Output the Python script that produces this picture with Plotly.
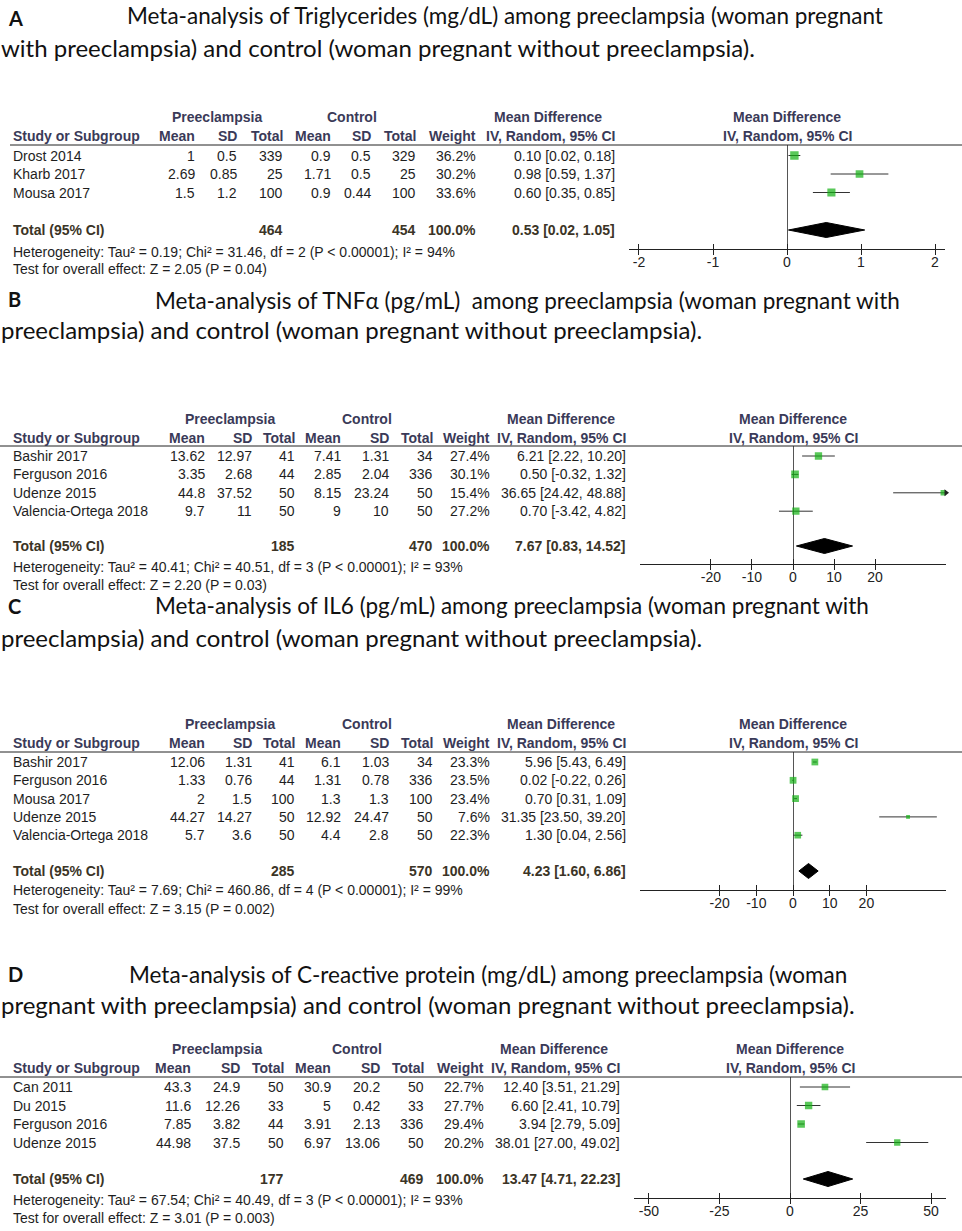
import plotly.graph_objects as go

W, H = 962, 1231

# ======================= DATA =======================
# ---- Panel A: Triglycerides ----
a_letter = "A"
a_title = ["Meta-analysis of Triglycerides (mg/dL) among preeclampsia (woman pregnant",
           "with preeclampsia) and control (woman pregnant without preeclampsia)."]
a_studies = ["Drost 2014", "Kharb 2017", "Mousa 2017"]
a_pe_mean = [1, 2.69, 1.5]
a_pe_sd = [0.5, 0.85, 1.2]
a_pe_n = [339, 25, 100]
a_ct_mean = [0.9, 1.71, 0.9]
a_ct_sd = [0.5, 0.5, 0.44]
a_ct_n = [329, 25, 100]
a_weight = [36.2, 30.2, 33.6]
a_md = [0.10, 0.98, 0.60]
a_lo = [0.02, 0.59, 0.35]
a_hi = [0.18, 1.37, 0.85]
a_total = dict(pe_n=464, ct_n=454, weight=100.0, md=0.53, lo=0.02, hi=1.05)
a_het = "Heterogeneity: Tau² = 0.19; Chi² = 31.46, df = 2 (P < 0.00001); I² = 94%"
a_test = "Test for overall effect: Z = 2.05 (P = 0.04)"
a_ticks = [-2, -1, 0, 1, 2]

# ---- Panel B: TNF-alpha ----
b_letter = "B"
b_title = ["Meta-analysis of TNFα (pg/mL)\u00a0 among preeclampsia (woman pregnant with",
           "preeclampsia) and control (woman pregnant without preeclampsia)."]
b_studies = ["Bashir 2017", "Ferguson 2016", "Udenze 2015", "Valencia-Ortega 2018"]
b_pe_mean = [13.62, 3.35, 44.8, 9.7]
b_pe_sd = [12.97, 2.68, 37.52, 11]
b_pe_n = [41, 44, 50, 50]
b_ct_mean = [7.41, 2.85, 8.15, 9]
b_ct_sd = [1.31, 2.04, 23.24, 10]
b_ct_n = [34, 336, 50, 50]
b_weight = [27.4, 30.1, 15.4, 27.2]
b_md = [6.21, 0.50, 36.65, 0.70]
b_lo = [2.22, -0.32, 24.42, -3.42]
b_hi = [10.20, 1.32, 48.88, 4.82]
b_total = dict(pe_n=185, ct_n=470, weight=100.0, md=7.67, lo=0.83, hi=14.52)
b_het = "Heterogeneity: Tau² = 40.41; Chi² = 40.51, df = 3 (P < 0.00001); I² = 93%"
b_test = "Test for overall effect: Z = 2.20 (P = 0.03)"
b_ticks = [-20, -10, 0, 10, 20]

# ---- Panel C: IL6 ----
c_letter = "C"
c_title = ["Meta-analysis of IL6 (pg/mL) among preeclampsia (woman pregnant with",
           "preeclampsia) and control (woman pregnant without preeclampsia)."]
c_studies = ["Bashir 2017", "Ferguson 2016", "Mousa 2017", "Udenze 2015", "Valencia-Ortega 2018"]
c_pe_mean = [12.06, 1.33, 2, 44.27, 5.7]
c_pe_sd = [1.31, 0.76, 1.5, 14.27, 3.6]
c_pe_n = [41, 44, 100, 50, 50]
c_ct_mean = [6.1, 1.31, 1.3, 12.92, 4.4]
c_ct_sd = [1.03, 0.78, 1.3, 24.47, 2.8]
c_ct_n = [34, 336, 100, 50, 50]
c_weight = [23.3, 23.5, 23.4, 7.6, 22.3]
c_md = [5.96, 0.02, 0.70, 31.35, 1.30]
c_lo = [5.43, -0.22, 0.31, 23.50, 0.04]
c_hi = [6.49, 0.26, 1.09, 39.20, 2.56]
c_total = dict(pe_n=285, ct_n=570, weight=100.0, md=4.23, lo=1.60, hi=6.86)
c_het = "Heterogeneity: Tau² = 7.69; Chi² = 460.86, df = 4 (P < 0.00001); I² = 99%"
c_test = "Test for overall effect: Z = 3.15 (P = 0.002)"
c_ticks = [-20, -10, 0, 10, 20]

# ---- Panel D: C-reactive protein ----
d_letter = "D"
d_title = ["Meta-analysis of C-reactive protein (mg/dL) among preeclampsia (woman",
           "pregnant with preeclampsia) and control (woman pregnant without preeclampsia)."]
d_studies = ["Can 2011", "Du 2015", "Ferguson 2016", "Udenze 2015"]
d_pe_mean = [43.3, 11.6, 7.85, 44.98]
d_pe_sd = [24.9, 12.26, 3.82, 37.5]
d_pe_n = [50, 33, 44, 50]
d_ct_mean = [30.9, 5, 3.91, 6.97]
d_ct_sd = [20.2, 0.42, 2.13, 13.06]
d_ct_n = [50, 33, 336, 50]
d_weight = [22.7, 27.7, 29.4, 20.2]
d_md = [12.40, 6.60, 3.94, 38.01]
d_lo = [3.51, 2.41, 2.79, 27.00]
d_hi = [21.29, 10.79, 5.09, 49.02]
d_total = dict(pe_n=177, ct_n=469, weight=100.0, md=13.47, lo=4.71, hi=22.23)
d_het = "Heterogeneity: Tau² = 67.54; Chi² = 40.49, df = 3 (P < 0.00001); I² = 93%"
d_test = "Test for overall effect: Z = 3.01 (P = 0.003)"
d_ticks = [-50, -25, 0, 25, 50]

# ======================= LAYOUT (pixel positions) =======================
geo = [
    dict(letter_y=18, t1_x=125, t1_y=16, t2_y=47, h1=117, h2=136, line=145, line_x0=10,
         row0=155.5, step=18.5, total=230, axis=249.3, het=252, test=269,
         x0=629, x1=945, xr=2.135, cols=[197, 239, 285, 333, 373, 418, 478, 617],
         pe_c=217, ct_c=352, md_c=548, fp_c=787),
    dict(letter_y=299, t1_x=153, t1_y=300, t2_y=330, h1=419, h2=438, line=446, line_x0=0,
         row0=456, step=18.4, total=546, axis=564.3, het=567, test=585,
         x0=640, x1=946, xr=37.3, cols=[207, 254, 297, 343, 391, 435, 492, 628],
         pe_c=230, ct_c=367, md_c=561, fp_c=793),
    dict(letter_y=606, t1_x=153, t1_y=606, t2_y=637, h1=724, h2=743, line=752, line_x0=0,
         row0=762, step=18.3, total=871, axis=890, het=890, test=909,
         x0=640, x1=946, xr=41.7, cols=[207, 254, 297, 343, 391, 435, 492, 628],
         pe_c=230, ct_c=367, md_c=561, fp_c=793),
    dict(letter_y=974, t1_x=127, t1_y=974, t2_y=1004, h1=1049, h2=1068, line=1077, line_x0=0,
         row0=1087, step=18.5, total=1179, axis=1197.7, het=1200, test=1218,
         x0=634, x1=946, xr=55.3, cols=[193, 242, 286, 333, 382, 426, 486, 622],
         pe_c=217, ct_c=357, md_c=554, fp_c=790),
]

panels = [
    dict(letter=a_letter, title=a_title, studies=a_studies, pe_mean=a_pe_mean, pe_sd=a_pe_sd, pe_n=a_pe_n,
         ct_mean=a_ct_mean, ct_sd=a_ct_sd, ct_n=a_ct_n, weight=a_weight, md=a_md, lo=a_lo, hi=a_hi,
         total=a_total, het=a_het, test=a_test, ticks=a_ticks),
    dict(letter=b_letter, title=b_title, studies=b_studies, pe_mean=b_pe_mean, pe_sd=b_pe_sd, pe_n=b_pe_n,
         ct_mean=b_ct_mean, ct_sd=b_ct_sd, ct_n=b_ct_n, weight=b_weight, md=b_md, lo=b_lo, hi=b_hi,
         total=b_total, het=b_het, test=b_test, ticks=b_ticks),
    dict(letter=c_letter, title=c_title, studies=c_studies, pe_mean=c_pe_mean, pe_sd=c_pe_sd, pe_n=c_pe_n,
         ct_mean=c_ct_mean, ct_sd=c_ct_sd, ct_n=c_ct_n, weight=c_weight, md=c_md, lo=c_lo, hi=c_hi,
         total=c_total, het=c_het, test=c_test, ticks=c_ticks),
    dict(letter=d_letter, title=d_title, studies=d_studies, pe_mean=d_pe_mean, pe_sd=d_pe_sd, pe_n=d_pe_n,
         ct_mean=d_ct_mean, ct_sd=d_ct_sd, ct_n=d_ct_n, weight=d_weight, md=d_md, lo=d_lo, hi=d_hi,
         total=d_total, het=d_het, test=d_test, ticks=d_ticks),
]

TITLE_FONT = "Lato, 'Open Sans', sans-serif"
TITLE_SIZE1 = 22.5
TITLE_SIZE2 = 24
TABLE_FONT = "'Liberation Sans', Arial, sans-serif"
TSIZE = 14
HEAD_COLOR = "#3a3a58"
TOTAL_COLOR = "#3b3426"
BODY_COLOR = "#1e1e1e"
GREEN = "#12b012"

fig = go.Figure()
anns = []
shapes = []


def px(x):
    return x / W


def py(y):
    return 1 - y / H


def txt(x, y, s, anchor="left", size=TSIZE, color=BODY_COLOR, bold=False, family=TABLE_FONT):
    anns.append(dict(x=px(x), y=py(y), xref="paper", yref="paper",
                     text=f"<b>{s}</b>" if bold else s, showarrow=False,
                     xanchor=anchor, yanchor="middle",
                     font=dict(family=family, size=size, color=color)))


def g(v):
    return f"{v:g}"


for k, (p, gm) in enumerate(zip(panels, geo)):
    n = len(p["studies"])
    xa = "x" if k == 0 else f"x{k + 1}"
    ya = "y" if k == 0 else f"y{k + 1}"
    xo = f"x{k + 5}"
    step = gm["step"]

    def rowpix(r):
        return gm["row0"] + r * step

    r_total = (gm["total"] - gm["row0"]) / step
    r_top = (gm["line"] - gm["row0"]) / step
    r_bot = (gm["axis"] - gm["row0"]) / step

    # ---- titles ----
    txt(6, gm["letter_y"], p["letter"], bold=True, size=20, color="#111", family=TITLE_FONT)
    txt(gm["t1_x"], gm["t1_y"], p["title"][0], size=TITLE_SIZE1, color="#111", family=TITLE_FONT)
    txt(-1, gm["t2_y"], p["title"][1], size=TITLE_SIZE2, color="#111", family=TITLE_FONT)

    # ---- table header ----
    c = gm["cols"]
    txt(gm["pe_c"], gm["h1"], "Preeclampsia", anchor="center", bold=True, color=HEAD_COLOR)
    txt(gm["ct_c"], gm["h1"], "Control", anchor="center", bold=True, color=HEAD_COLOR)
    txt(gm["md_c"], gm["h1"], "Mean Difference", anchor="center", bold=True, color=HEAD_COLOR)
    txt(gm["fp_c"], gm["h1"], "Mean Difference", anchor="center", bold=True, color=HEAD_COLOR)
    txt(11, gm["h2"], "Study or Subgroup", bold=True, color=HEAD_COLOR)
    for col, lab in zip(c, ["Mean", "SD", "Total", "Mean", "SD", "Total", "Weight", "IV, Random, 95% CI"]):
        txt(col, gm["h2"], lab, anchor="right", bold=True, color=HEAD_COLOR)
    txt(gm["fp_c"], gm["h2"], "IV, Random, 95% CI", anchor="center", bold=True, color=HEAD_COLOR)
    shapes.append(dict(type="line", xref="paper", yref="paper", x0=px(gm["line_x0"]), x1=1,
                       y0=py(gm["line"]), y1=py(gm["line"]), line=dict(color="#222", width=1)))

    # ---- table rows ----
    for i in range(n):
        y = rowpix(i)
        txt(11, y, p["studies"][i])
        vals = [g(p["pe_mean"][i]), g(p["pe_sd"][i]), g(p["pe_n"][i]),
                g(p["ct_mean"][i]), g(p["ct_sd"][i]), g(p["ct_n"][i]),
                f"{p['weight'][i]:.1f}%",
                f"{p['md'][i]:.2f} [{p['lo'][i]:.2f}, {p['hi'][i]:.2f}]"]
        for col, v in zip(c, vals):
            txt(col, y, v, anchor="right")

    t = p["total"]
    yt = rowpix(r_total)
    txt(11, yt, "Total (95% CI)", bold=True, color=TOTAL_COLOR)
    txt(c[2], yt, g(t["pe_n"]), anchor="right", bold=True, color=TOTAL_COLOR)
    txt(c[5], yt, g(t["ct_n"]), anchor="right", bold=True, color=TOTAL_COLOR)
    txt(c[6], yt, f"{t['weight']:.1f}%", anchor="right", bold=True, color=TOTAL_COLOR)
    txt(c[7], yt, f"{t['md']:.2f} [{t['lo']:.2f}, {t['hi']:.2f}]", anchor="right", bold=True, color=TOTAL_COLOR)
    txt(11, gm["het"], p["het"])
    txt(11, gm["test"], p["test"])

    # ---- forest plot ----
    rows = list(range(n))
    fig.add_trace(go.Scatter(
        x=p["md"], y=rows, mode="markers", xaxis=xa, yaxis=ya, showlegend=False,
        marker=dict(symbol="square", color=GREEN, size=[1.4 * w ** 0.5 for w in p["weight"]],
                    line=dict(width=0)),
        error_x=dict(type="data", symmetric=False,
                     array=[h - m for h, m in zip(p["hi"], p["md"])],
                     arrayminus=[m - l for m, l in zip(p["md"], p["lo"])],
                     width=0, thickness=1, color="#333")))
    # arrows for CIs running off the scale
    arr_x = [gm["xr"] for h in p["hi"] if h > gm["xr"]]
    arr_y = [i for i, h in enumerate(p["hi"]) if h > gm["xr"]]
    if arr_x:
        fig.add_trace(go.Scatter(x=arr_x, y=arr_y, mode="markers", xaxis=xa, yaxis=ya, showlegend=False,
                                 cliponaxis=False,
                                 marker=dict(symbol="triangle-right", size=6, color="#222")))
    # diamond
    dh = 7.5 / step
    fig.add_trace(go.Scatter(
        x=[t["lo"], t["md"], t["hi"], t["md"], t["lo"]],
        y=[r_total, r_total - dh, r_total, r_total + dh, r_total],
        mode="lines", fill="toself", fillcolor="#000", line=dict(color="#000", width=1),
        xaxis=xa, yaxis=ya, showlegend=False))
    # dummy trace for the overlay axis with outward ticks
    fig.add_trace(go.Scatter(x=[None], y=[None], xaxis=xo, yaxis=ya, showlegend=False))

    tickfont = dict(family=TABLE_FONT, size=TSIZE, color="#222")
    fig.layout[f"xaxis{'' if k == 0 else k + 1}"] = dict(
        domain=[px(gm["x0"]), px(gm["x1"])], range=[-gm["xr"], gm["xr"]], anchor=ya,
        tickvals=p["ticks"], ticktext=[str(v) for v in p["ticks"]],
        ticks="inside", ticklen=5, tickwidth=1, tickcolor="#222",
        showline=True, linecolor="#222", linewidth=1,
        zeroline=True, zerolinecolor="#555", zerolinewidth=1,
        showgrid=False, tickfont=tickfont, fixedrange=True)
    fig.layout[f"xaxis{k + 5}"] = dict(
        overlaying=xa, anchor=ya, range=[-gm["xr"], gm["xr"]], side="bottom",
        tickvals=p["ticks"], ticks="outside", ticklen=5, tickwidth=1, tickcolor="#222",
        showticklabels=False, showline=False, zeroline=False, showgrid=False, fixedrange=True)
    fig.layout[f"yaxis{'' if k == 0 else k + 1}"] = dict(
        domain=[py(gm["axis"]), py(gm["line"])], range=[r_bot, r_top], anchor=xa,
        visible=False, fixedrange=True)

fig.update_layout(
    width=W, height=H, autosize=False,
    margin=dict(l=0, r=0, t=0, b=0),
    paper_bgcolor="white", plot_bgcolor="white",
    annotations=anns, shapes=shapes, showlegend=False,
)

fig.write_html("out.html", config={"displayModeBar": False},
               post_script="document.body.style.margin='0';")
